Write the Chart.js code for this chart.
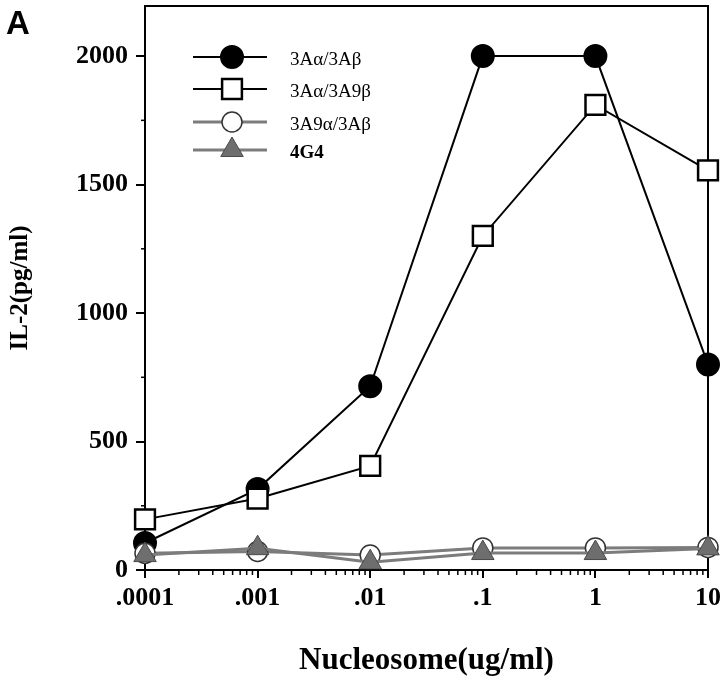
<!DOCTYPE html>
<html><head><meta charset="utf-8">
<style>html,body{margin:0;padding:0;background:#fff}#wrap{width:720px;height:687px}</style>
<script src="https://cdn.jsdelivr.net/npm/chart.js@4.4.0/dist/chart.umd.min.js"></script>
</head><body><div id="wrap"><canvas id="c" width="720" height="687"></canvas></div>
<script>
const concentrations = [0.0001, 0.001, 0.01, 0.1, 1, 10];
const xTickLabels = ['.0001', '.001', '.01', '.1', '1', '10'];
const yTickValues = [0, 500, 1000, 1500, 2000];
const yMinorValues = [250, 750, 1250, 1750];
const seriesNames = ['3Aα/3Aβ', '3Aα/3A9β', '3A9α/3Aβ', '4G4'];
const il2_3Aa3Ab = [105, 315, 715, 2000, 2000, 800];
const il2_3Aa3A9b = [197, 278, 405, 1300, 1810, 1555];
const il2_3A9a3Ab = [65, 72, 58, 86, 86, 88];
const il2_4G4 = [58, 85, 30, 66, 66, 84];

const SERIF = "'Liberation Serif', 'Times New Roman', serif";
const pts = arr => concentrations.map((x, i) => ({x: x, y: arr[i]}));

const styles = [
  {pointStyle: 'circle', radius: 11, bg: '#000', border: '#000', bw: 2, line: '#000', lw: 2, order: 3},
  {pointStyle: 'rect', radius: 14, bg: '#fff', border: '#000', bw: 2.5, line: '#000', lw: 2, order: 2},
  {pointStyle: 'circle', radius: 10, bg: '#fff', border: '#333', bw: 1.5, line: '#7c7c7c', lw: 3, order: 1},
  {pointStyle: 'triangle', radius: 13, bg: '#6e6e6e', border: '#4a4a4a', bw: 1, line: '#7c7c7c', lw: 3, order: 0}
];
const seriesData = [il2_3Aa3Ab, il2_3Aa3A9b, il2_3A9a3Ab, il2_4G4];

const datasets = seriesData.map((arr, i) => ({
  label: seriesNames[i],
  data: pts(arr),
  borderColor: styles[i].line,
  borderWidth: styles[i].lw,
  pointStyle: styles[i].pointStyle,
  pointRadius: styles[i].radius,
  pointBackgroundColor: styles[i].bg,
  pointBorderColor: styles[i].border,
  pointBorderWidth: styles[i].bw,
  tension: 0,
  clip: false,
  order: styles[i].order
}));

const framePlugin = {
  id: 'frame',
  beforeDatasetsDraw(chart) {
    const {ctx, chartArea: a} = chart;
    ctx.save();
    ctx.strokeStyle = '#000';
    ctx.lineWidth = 2;
    ctx.beginPath();
    ctx.moveTo(a.left, a.top);
    ctx.lineTo(a.right, a.top);
    ctx.lineTo(a.right, a.bottom);
    ctx.stroke();
    ctx.lineWidth = 1.5;
    const ys = chart.scales.y, xs = chart.scales.x;
    yMinorValues.forEach(v => {
      const y = ys.getPixelForValue(v);
      ctx.beginPath(); ctx.moveTo(a.left - 4, y); ctx.lineTo(a.left, y); ctx.stroke();
    });
    concentrations.slice(0, -1).forEach(d => {
      for (let k = 2; k <= 9; k++) {
        const x = xs.getPixelForValue(k * d);
        ctx.beginPath(); ctx.moveTo(x, a.bottom); ctx.lineTo(x, a.bottom + 5); ctx.stroke();
      }
    });
    ctx.restore();
  },
  afterDraw(chart) {
    const {ctx} = chart;
    ctx.save();
    ctx.fillStyle = '#000';
    ctx.font = "bold 33px 'Liberation Sans', Arial, sans-serif";
    ctx.textBaseline = 'alphabetic';
    ctx.textAlign = 'left';
    ctx.fillText('A', 6, 34);
    const rows = [57, 89, 122, 150];
    rows.forEach((y, i) => {
      const s = styles[i];
      ctx.strokeStyle = s.line;
      ctx.lineWidth = s.lw;
      ctx.beginPath(); ctx.moveTo(193, y); ctx.lineTo(267, y); ctx.stroke();
      ctx.fillStyle = s.bg;
      ctx.strokeStyle = s.border;
      ctx.lineWidth = s.bw;
      Chart.helpers.drawPoint(ctx, {pointStyle: s.pointStyle, radius: s.radius, rotation: 0, borderWidth: s.bw}, 232, y);
      ctx.fillStyle = '#000';
      ctx.font = (i === 3 ? 'bold ' : '') + '19px ' + SERIF;
      ctx.textAlign = 'left';
      ctx.textBaseline = 'middle';
      ctx.fillText(seriesNames[i], 290, y + 3);
    });
    ctx.restore();
  }
};

new Chart(document.getElementById('c'), {
  type: 'line',
  data: {datasets: datasets},
  options: {
    responsive: false,
    animation: false,
    devicePixelRatio: 1,
    layout: {autoPadding: false, padding: {left: 0, right: 12, top: 6, bottom: 0}},
    plugins: {legend: {display: false}, tooltip: {enabled: false}},
    scales: {
      x: {
        type: 'logarithmic',
        min: 0.0001,
        max: 10,
        afterBuildTicks(scale) { scale.ticks = concentrations.map(v => ({value: v, major: true})); },
        afterFit(scale) { scale.height = 117; scale.paddingLeft = 0; scale.paddingRight = 0; },
        ticks: {
          autoSkip: false,
          maxRotation: 0,
          padding: 5,
          color: '#000',
          font: {family: SERIF, size: 26, weight: 'bold'},
          callback(value) { const i = concentrations.indexOf(value); return i >= 0 ? xTickLabels[i] : ''; }
        },
        grid: {drawOnChartArea: false, drawTicks: true, tickLength: 8, color: '#000', lineWidth: 2},
        border: {display: true, color: '#000', width: 2},
        title: {display: true, text: 'Nucleosome(ug/ml)', color: '#000',
          font: {family: SERIF, size: 31, weight: 'bold'}, padding: {top: 0, bottom: 7}}
      },
      y: {
        type: 'linear',
        min: 0,
        max: 2195,
        afterBuildTicks(scale) { scale.ticks = yTickValues.map(v => ({value: v})); },
        afterFit(scale) { scale.width = 145; scale.paddingTop = 0; scale.paddingBottom = 0; },
        ticks: {
          padding: 8,
          color: '#000',
          font: {family: SERIF, size: 26, weight: 'bold'},
          callback(value) { return String(value); }
        },
        grid: {drawOnChartArea: false, drawTicks: true, tickLength: 9, color: '#000', lineWidth: 2},
        border: {display: true, color: '#000', width: 2},
        title: {display: true, text: 'IL-2(pg/ml)', color: '#000',
          font: {family: SERIF, size: 25, weight: 'bold'}, padding: {top: 6, bottom: 0}}
      }
    }
  },
  plugins: [framePlugin]
});
</script>
</body></html>
